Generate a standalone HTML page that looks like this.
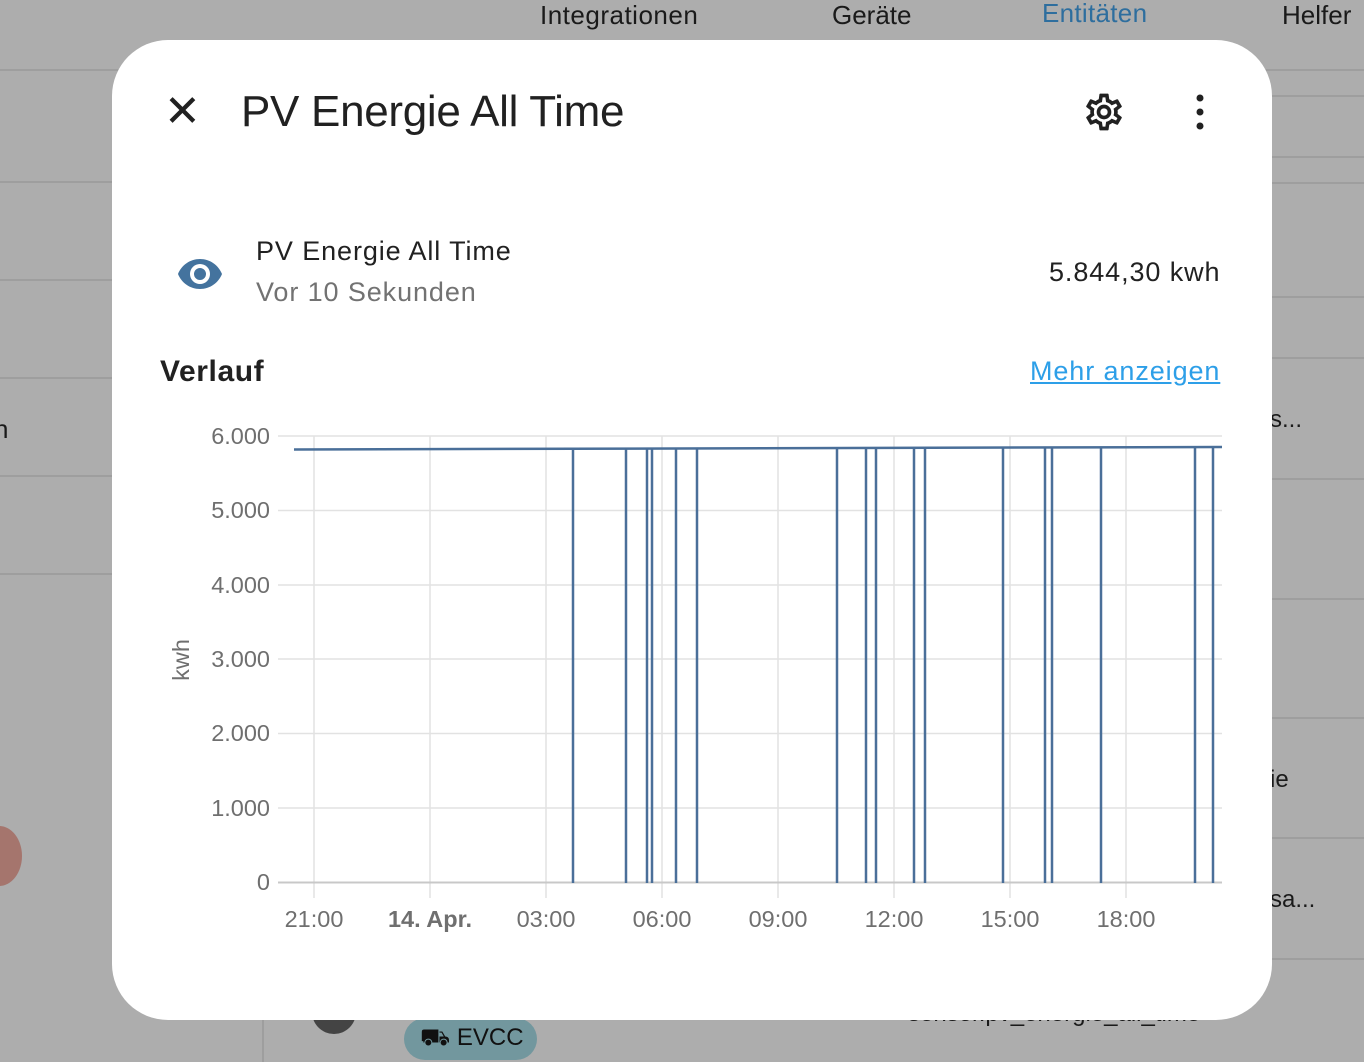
<!DOCTYPE html>
<html><head><meta charset="utf-8"><style>
body{margin:0;width:1364px;height:1062px;background:#adadad;position:relative;overflow:hidden;font-family:"Liberation Sans",sans-serif}
.t{position:absolute;white-space:nowrap}
.hl{position:absolute;height:2px;background:#9e9e9e}
</style></head><body>
<div class="t" style="left:540px;top:0;font-size:26px;color:#1a1a1a;letter-spacing:0.5px">Integrationen</div>
<div class="t" style="left:832px;top:0;font-size:26px;color:#1a1a1a">Geräte</div>
<div class="t" style="left:1042px;top:-2px;font-size:26px;color:#2e6e9e;letter-spacing:0.3px">Entitäten</div>
<div class="t" style="left:1282px;top:0;font-size:26px;color:#1a1a1a">Helfer</div>
<div class="hl" style="left:0;top:69px;width:1364px"></div>
<div class="hl" style="left:0;top:181px;width:120px"></div>
<div class="hl" style="left:0;top:279px;width:120px"></div>
<div class="hl" style="left:0;top:377px;width:120px"></div>
<div class="hl" style="left:0;top:475px;width:120px"></div>
<div class="hl" style="left:0;top:573px;width:120px"></div>
<div class="hl" style="left:1260px;top:95px;width:104px"></div>
<div class="hl" style="left:1260px;top:156px;width:104px"></div>
<div class="hl" style="left:1260px;top:182px;width:104px"></div>
<div class="hl" style="left:1260px;top:296px;width:104px"></div>
<div class="hl" style="left:1260px;top:357px;width:104px"></div>
<div class="hl" style="left:1260px;top:478px;width:104px"></div>
<div class="hl" style="left:1260px;top:598px;width:104px"></div>
<div class="hl" style="left:1260px;top:717px;width:104px"></div>
<div class="hl" style="left:1260px;top:837px;width:104px"></div>
<div class="hl" style="left:1260px;top:958px;width:104px"></div>
<div style="position:absolute;left:262px;top:1000px;width:2px;height:62px;background:#9e9e9e"></div>
<div class="t" style="left:-6px;top:414px;font-size:26px;color:#1a1a1a">n</div>
<div class="t" style="left:1270px;top:406px;font-size:24px;color:#1a1a1a">s...</div>
<div class="t" style="left:1270px;top:766px;font-size:24px;color:#1a1a1a">ie</div>
<div class="t" style="left:1270px;top:886px;font-size:24px;color:#1a1a1a">sa...</div>
<div style="position:absolute;left:-24px;top:826px;width:46px;height:60px;border-radius:50%;background:#a5756d"></div>
<div style="position:absolute;left:312px;top:990px;width:44px;height:44px;border-radius:50%;background:#444"></div>
<div style="position:absolute;left:404px;top:1018px;width:133px;height:42px;border-radius:21px;background:#72979e"></div>
<div class="t" style="left:420px;top:1024px;font-size:24px;color:#111">⛟ EVCC</div>
<div class="t" style="left:908px;top:1000px;font-size:24px;color:#1a1a1a">sensor.pv_energie_all_time</div>

<div style="position:absolute;left:112px;top:40px;width:1160px;height:980px;background:#fff;border-radius:56px"></div>
<div class="t" style="left:164px;top:86px;font-size:44px;color:#212121;font-weight:300">✕</div>
<div class="t" style="left:241px;top:87px;font-size:44px;color:#212121;letter-spacing:-0.3px">PV Energie All Time</div>
<svg style="position:absolute;left:1082px;top:90px" width="44" height="44" viewBox="0 0 24 24"><path fill="#212121" d="M12,8A4,4 0 0,1 16,12A4,4 0 0,1 12,16A4,4 0 0,1 8,12A4,4 0 0,1 12,8M12,10A2,2 0 0,0 10,12A2,2 0 0,0 12,14A2,2 0 0,0 14,12A2,2 0 0,0 12,10M10,22C9.750,22 9.54,21.82 9.5,21.58L9.13,18.93C8.5,18.68 7.96,18.34 7.44,17.94L4.95,18.95C4.73,19.03 4.46,18.950 4.34,18.73L2.34,15.27C2.21,15.05 2.27,14.78 2.46,14.63L4.57,12.97L4.5,12L4.57,11L2.46,9.37C2.27,9.22 2.21,8.95 2.34,8.73L4.34,5.27C4.46,5.05 4.73,4.96 4.95,5.05L7.44,6.05C7.96,5.66 8.5,5.32 9.13,5.07L9.5,2.42C9.54,2.18 9.75,2 10,2H14C14.25,2 14.46,2.18 14.5,2.42L14.87,5.07C15.5,5.32 16.04,5.66 16.56,6.05L19.05,5.05C19.27,4.96 19.54,5.05 19.66,5.27L21.66,8.73C21.79,8.95 21.73,9.22 21.54,9.37L19.43,11L19.5,12L19.43,13L21.54,14.63C21.73,14.78 21.79,15.05 21.66,15.27L19.66,18.73C19.54,18.95 19.27,19.04 19.05,18.95L16.56,17.95C16.04,18.34 15.5,18.68 14.87,18.93L14.5,21.58C14.46,21.82 14.25,22 14,22H10M11.25,4L10.88,6.61C9.68,6.86 8.62,7.5 7.85,8.39L5.44,7.35L4.69,8.65L6.8,10.2C6.4,11.37 6.4,12.64 6.8,13.8L4.68,15.36L5.43,16.66L7.86,15.62C8.63,16.5 9.68,17.14 10.87,17.38L11.24,20H12.76L13.13,17.39C14.32,17.14 15.37,16.5 16.14,15.62L18.57,16.66L19.32,15.36L17.2,13.81C17.6,12.64 17.6,11.37 17.2,10.2L19.31,8.65L18.56,7.35L16.15,8.39C15.38,7.5 14.32,6.86 13.12,6.62L12.75,4H11.25Z"/></svg>
<svg style="position:absolute;left:1190px;top:94px" width="20" height="36"><circle cx="10" cy="4" r="3.5" fill="#212121"/><circle cx="10" cy="18" r="3.5" fill="#212121"/><circle cx="10" cy="32" r="3.5" fill="#212121"/></svg>
<svg style="position:absolute;left:176px;top:254px" width="48" height="40" viewBox="0 3 24 18"><path fill="#44739e" d="M12,9A3,3 0 0,0 9,12A3,3 0 0,0 12,15A3,3 0 0,0 15,12A3,3 0 0,0 12,9M12,17A5,5 0 0,1 7,12A5,5 0 0,1 12,7A5,5 0 0,1 17,12A5,5 0 0,1 12,17M12,4.5C7,4.5 2.73,7.61 1,12C2.73,16.39 7,19.5 12,19.5C17,19.5 21.27,16.39 23,12C21.27,7.61 17,4.5 12,4.5Z"/></svg>
<div class="t" style="left:256px;top:236px;font-size:27px;color:#212121;letter-spacing:0.9px">PV Energie All Time</div>
<div class="t" style="left:256px;top:277px;font-size:27px;color:#727272;letter-spacing:0.9px">Vor 10 Sekunden</div>
<div class="t" style="left:1049px;top:257px;font-size:27px;color:#212121;letter-spacing:0.9px">5.844,30 kwh</div>
<div class="t" style="left:160px;top:355px;font-size:30px;color:#212121;font-weight:bold;letter-spacing:0.6px">Verlauf</div>
<div class="t" style="left:1030px;top:356px;font-size:27px;color:#2d9fe8;text-decoration:underline;letter-spacing:0.9px">Mehr anzeigen</div>

<svg style="position:absolute;left:0;top:0" width="1364" height="1062" font-family="Liberation Sans" font-size="23.5" fill="#6f6f6f">
<g stroke="#e2e2e2" stroke-width="1.5">
<line x1="278" y1="436" x2="1222" y2="436"/><line x1="278" y1="510.5" x2="1222" y2="510.5"/><line x1="278" y1="585" x2="1222" y2="585"/><line x1="278" y1="659" x2="1222" y2="659"/><line x1="278" y1="733.5" x2="1222" y2="733.5"/><line x1="278" y1="808" x2="1222" y2="808"/>
<line x1="314" y1="436" x2="314" y2="898"/><line x1="430" y1="436" x2="430" y2="898"/><line x1="546" y1="436" x2="546" y2="898"/><line x1="662" y1="436" x2="662" y2="898"/><line x1="778" y1="436" x2="778" y2="898"/><line x1="894" y1="436" x2="894" y2="898"/><line x1="1010" y1="436" x2="1010" y2="898"/><line x1="1126" y1="436" x2="1126" y2="898"/>
</g>
<line x1="278" y1="882.5" x2="1222" y2="882.5" stroke="#c8c8c8" stroke-width="2"/>
<g text-anchor="end"><text x="270" y="444">6.000</text><text x="270" y="518">5.000</text><text x="270" y="593">4.000</text><text x="270" y="667">3.000</text><text x="270" y="741">2.000</text><text x="270" y="816">1.000</text><text x="270" y="890">0</text></g>
<text transform="translate(189,660) rotate(-90)" text-anchor="middle">kwh</text>
<g text-anchor="middle"><text x="314" y="927">21:00</text><text x="430" y="927" font-weight="bold">14. Apr.</text><text x="546" y="927">03:00</text><text x="662" y="927">06:00</text><text x="778" y="927">09:00</text><text x="894" y="927">12:00</text><text x="1010" y="927">15:00</text><text x="1126" y="927">18:00</text></g>
<polyline fill="none" stroke="#4a6f99" stroke-width="2.5" points="294,449.5 1222,447"/>
<g stroke="#4a6f99" stroke-width="2.5">
<line x1="573" y1="449" x2="573" y2="883"/><line x1="626" y1="449" x2="626" y2="883"/><line x1="647" y1="449" x2="647" y2="883"/><line x1="652" y1="449" x2="652" y2="883"/><line x1="676" y1="449" x2="676" y2="883"/><line x1="697" y1="449" x2="697" y2="883"/><line x1="837" y1="449" x2="837" y2="883"/><line x1="866" y1="449" x2="866" y2="883"/><line x1="876" y1="449" x2="876" y2="883"/><line x1="914" y1="449" x2="914" y2="883"/><line x1="925" y1="449" x2="925" y2="883"/><line x1="1003" y1="448" x2="1003" y2="883"/><line x1="1045" y1="448" x2="1045" y2="883"/><line x1="1052" y1="448" x2="1052" y2="883"/><line x1="1101" y1="448" x2="1101" y2="883"/><line x1="1195" y1="447" x2="1195" y2="883"/><line x1="1213" y1="447" x2="1213" y2="883"/>
</g>
</svg>
</body></html>
